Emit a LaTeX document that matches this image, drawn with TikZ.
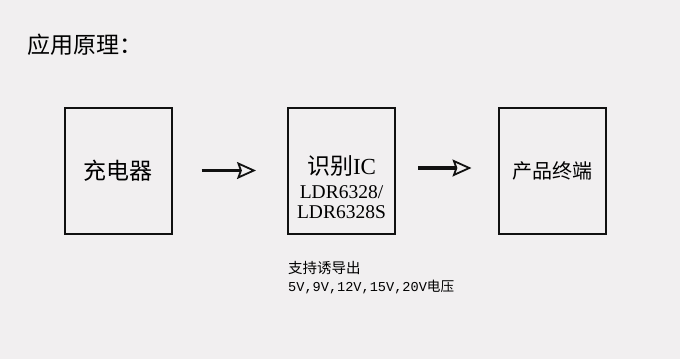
\documentclass[tikz,border=0pt]{standalone}
\usepackage{fontspec}
\usepackage{xcolor}
\usetikzlibrary{arrows.meta,positioning}
\setmainfont{Liberation Serif}
\setmonofont{Liberation Mono}
\newfontfamily\cjk{Noto Sans CJK SC}
\definecolor{pagegray}{HTML}{F1EFF0}
\definecolor{inkblack}{HTML}{111111}

\tikzset{
  blockbox/.style={draw=inkblack,line width=2pt,minimum width=107pt,minimum height=126pt,inner sep=0pt},
  flowarrow/.style={line width=3.5pt,draw=inkblack,-{Stealth[open,length=19pt,width=17pt,inset=3pt,line width=1.8pt]}},
}

\begin{document}
\begin{tikzpicture}[x=1pt,y=-1pt]
    \fill[pagegray] (0,0) rectangle (680,359);
    \useasboundingbox (0,0) rectangle (680,359);
    % title
    \node[anchor=west,inner sep=0pt,font=\cjk\fontsize{23}{26}\selectfont] (title) at (27,45) {应用原理：};
    % blocks
    \node[blockbox] (charger) at (118,170.5) {};
    \node[blockbox] (icbox) at (341.5,170.5) {};
    \node[blockbox] (terminal) at (552,170.5) {};
    \node[font=\cjk\fontsize{23}{26}\selectfont] (chargerlbl) at (charger.center) {充电器};
    \node[font=\fontsize{23}{26}\selectfont,inner sep=0pt] (iclbl) at (341.5,166) {{\cjk 识别}IC};
    \node[font=\fontsize{19.5}{20}\selectfont,inner sep=0pt,align=center] (icpart) at (341.5,202) {LDR6328/\\LDR6328S};
    \node[font=\cjk\fontsize{20}{22}\selectfont] (terminallbl) at (terminal.center) {产品终端};
    % arrows
    \draw[flowarrow,shorten <=29pt,shorten >=31pt] (charger.east) -- (icbox.west);
    \draw[flowarrow,shorten <=22pt,shorten >=26pt] ([yshift=2.5pt]icbox.east) -- ([yshift=2.5pt]terminal.west);
    % note
    \node[anchor=west,inner sep=0pt,font=\cjk\fontsize{14.5}{16}\selectfont] (note1) at (288,268) {支持诱导出};
    \node[anchor=west,inner sep=0pt,font=\fontsize{13.6}{16}\selectfont] (note2) at (288,287) {\ttfamily 5V,9V,12V,15V,20V{\cjk 电压}};
\end{tikzpicture}
\end{document}
